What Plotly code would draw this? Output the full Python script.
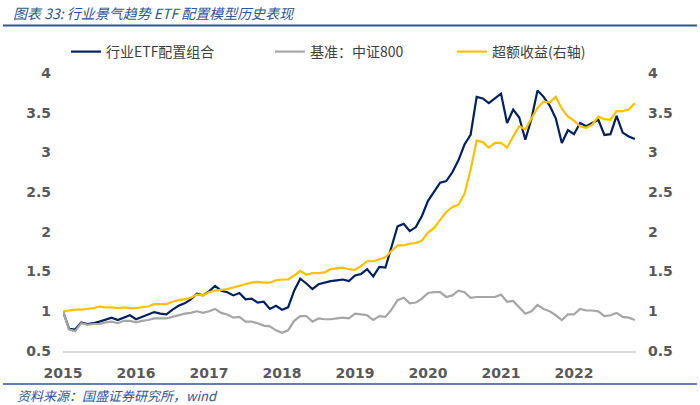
import plotly.graph_objects as go

# ---------------- data (monthly, Jan 2015 .. Nov 2022) ----------------
start_year = 2015
year_ticks = [2015, 2016, 2017, 2018, 2019, 2020, 2021, 2022]
year_labels = ["2015", "2016", "2017", "2018", "2019", "2020", "2021", "2022"]
y_ticks = [0.5, 1, 1.5, 2, 2.5, 3, 3.5, 4]
y_labels = ["0.5", "1", "1.5", "2", "2.5", "3", "3.5", "4"]

portfolio = [
    1.00, 0.78, 0.77, 0.86, 0.84, 0.85, 0.87, 0.90, 0.92, 0.89, 0.92, 0.95,
    0.90, 0.93, 0.96, 0.99, 0.97, 0.96, 1.02, 1.07, 1.10, 1.15, 1.22, 1.20,
    1.25, 1.32, 1.26, 1.24, 1.20, 1.23, 1.15, 1.16, 1.11, 1.12, 1.03, 1.07,
    1.02, 1.05, 1.26, 1.41, 1.35, 1.28, 1.34, 1.36, 1.38, 1.39, 1.40, 1.38,
    1.45, 1.47, 1.53, 1.44, 1.56, 1.55, 1.82, 2.07, 2.10, 2.01, 2.06, 2.20,
    2.39, 2.50, 2.62, 2.64, 2.75, 2.90, 3.10, 3.22, 3.70, 3.68, 3.62, 3.68,
    3.74, 3.37, 3.54, 3.44, 3.16, 3.42, 3.78, 3.70, 3.59, 3.43, 3.12, 3.28,
    3.23, 3.37, 3.33, 3.37, 3.41, 3.22, 3.23, 3.46, 3.25, 3.20, 3.17,
]
benchmark = [
    1.00, 0.77, 0.75, 0.85, 0.83, 0.84, 0.84, 0.86, 0.87, 0.85, 0.88, 0.88,
    0.86, 0.88, 0.89, 0.91, 0.91, 0.91, 0.93, 0.95, 0.97, 0.98, 1.00, 0.98,
    1.00, 1.03, 0.98, 0.96, 0.92, 0.93, 0.87, 0.87, 0.85, 0.82, 0.81, 0.76,
    0.73, 0.76, 0.88, 0.94, 0.94, 0.87, 0.91, 0.90, 0.90, 0.91, 0.92, 0.91,
    0.97, 0.96, 0.95, 0.89, 0.94, 0.93, 1.02, 1.14, 1.17, 1.10, 1.11, 1.16,
    1.23, 1.24, 1.24, 1.18, 1.20, 1.26, 1.24, 1.17, 1.18, 1.18, 1.18, 1.18,
    1.21, 1.12, 1.13, 1.05, 0.97, 1.00, 1.08, 1.03, 1.00, 0.95, 0.89, 0.96,
    0.96, 1.03, 1.01, 1.01, 1.00, 0.94, 0.95, 0.98, 0.93, 0.92, 0.89,
]
excess = [
    1.00, 1.01, 1.02, 1.02, 1.03, 1.04, 1.06, 1.05, 1.05, 1.04, 1.05, 1.04,
    1.04, 1.05, 1.06, 1.09, 1.09, 1.09, 1.12, 1.14, 1.15, 1.17, 1.21, 1.20,
    1.24, 1.26, 1.27, 1.28, 1.30, 1.32, 1.34, 1.36, 1.37, 1.36, 1.36, 1.39,
    1.40, 1.40, 1.45, 1.51, 1.46, 1.48, 1.48, 1.49, 1.53, 1.54, 1.55, 1.53,
    1.52, 1.57, 1.63, 1.63, 1.66, 1.68, 1.76, 1.83, 1.83, 1.85, 1.86, 1.89,
    1.99, 2.05, 2.15, 2.25, 2.31, 2.34, 2.48, 2.78, 3.15, 3.13, 3.06, 3.12,
    3.12, 3.06, 3.20, 3.33, 3.29, 3.42, 3.56, 3.64, 3.63, 3.70, 3.55, 3.45,
    3.40, 3.33, 3.31, 3.35, 3.45, 3.42, 3.41, 3.52, 3.52, 3.54, 3.62,
]
months = [start_year + i / 12 for i in range(len(portfolio))]

names = ["行业ETF配置组合", "基准：中证800", "超额收益(右轴)"]
title_text = "图表 33: 行业景气趋势 ETF 配置模型历史表现"
source_text = "资料来源：国盛证券研究所，wind"

# ---------------- layout helpers ----------------
W, H = 700, 405
L, R, T, B = 63, 636, 73, 351


def px(x):
    return (x - L) / (R - L)


def py(y):
    return (B - y) / (B - T)


NAVY = "#002060"
GRAY = "#A6A6A6"
GOLD = "#FFC000"
BLUE = "#2F5597"
TXT = "#404040"
TICK = "#595959"

fig = go.Figure()
fig.add_trace(go.Scatter(x=months, y=portfolio, name=names[0], mode="lines",
                         line=dict(color=NAVY, width=2.2), legend="legend"))
fig.add_trace(go.Scatter(x=months, y=benchmark, name=names[1], mode="lines",
                         line=dict(color=GRAY, width=2.2), legend="legend2"))
fig.add_trace(go.Scatter(x=months, y=excess, name=names[2], mode="lines",
                         line=dict(color=GOLD, width=2.2), yaxis="y2", legend="legend3"))

tickfont = dict(family="DejaVu Sans", size=14, color=TICK, weight="bold")
legfont = dict(family="Noto Sans CJK SC", size=14, color=TXT)
leg_common = dict(orientation="h", yanchor="middle", y=py(52), xanchor="left",
                  font=legfont, bgcolor="rgba(0,0,0,0)", itemwidth=30)

fig.update_layout(
    width=W, height=H,
    margin=dict(l=L, r=W - R, t=T, b=H - B, pad=0),
    paper_bgcolor="white", plot_bgcolor="white",
    showlegend=True,
    legend=dict(x=px(66), **leg_common),
    legend2=dict(x=px(270), **leg_common),
    legend3=dict(x=px(452), **leg_common),
    xaxis=dict(range=[start_year, start_year + (R - L) / 73.0], tickmode="array",
               tickvals=year_ticks, ticktext=year_labels, showgrid=False, zeroline=False,
               showline=True, linecolor="#D9D9D9", linewidth=1.5, ticks="",
               tickfont=tickfont, ticklabelstandoff=8),
    yaxis=dict(range=[0.5, 4], tickmode="array", tickvals=y_ticks, ticktext=y_labels,
               showgrid=False, zeroline=False, showline=False, ticks="",
               tickfont=tickfont, ticklabelstandoff=11),
    yaxis2=dict(range=[0.5, 4], tickmode="array", tickvals=y_ticks, ticktext=y_labels,
                overlaying="y", side="right", showgrid=False, zeroline=False,
                showline=False, ticks="", tickfont=tickfont, ticklabelstandoff=11),
    annotations=[
        dict(text=title_text, xref="paper", yref="paper", x=px(11), y=py(13),
             xanchor="left", yanchor="middle", showarrow=False,
             font=dict(family="Noto Sans CJK SC", size=14, color=BLUE, style="italic")),
        dict(text=source_text, xref="paper", yref="paper", x=px(15), y=py(395),
             xanchor="left", yanchor="middle", showarrow=False,
             font=dict(family="Noto Sans CJK SC", size=13, color=BLUE, style="italic")),
    ],
    shapes=[
        dict(type="line", xref="paper", yref="paper", x0=px(3), x1=px(697),
             y0=py(25.5), y1=py(25.5), line=dict(color=BLUE, width=2)),
        dict(type="line", xref="paper", yref="paper", x0=px(3), x1=px(697),
             y0=py(384), y1=py(384), line=dict(color=BLUE, width=1.5)),
    ],
)

fig.write_html("out.html", config={"displayModeBar": False},
               post_script="document.body.style.margin='0';document.body.style.padding='0';")
